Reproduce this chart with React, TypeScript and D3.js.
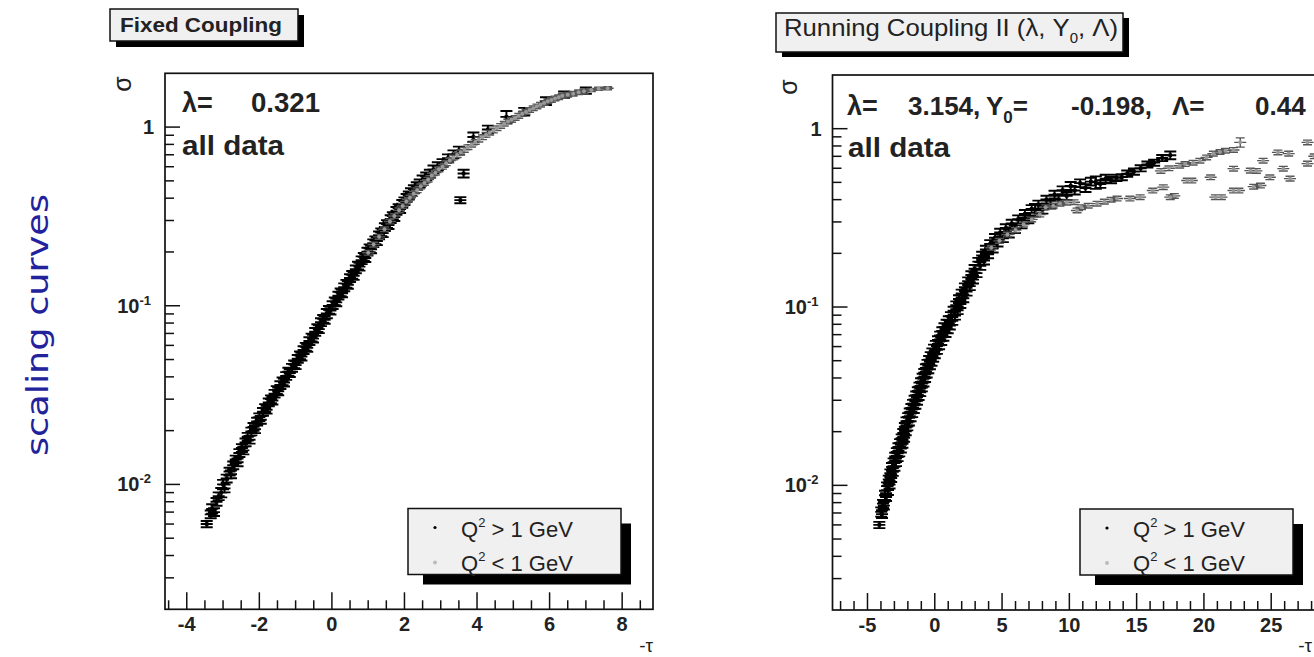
import React from "react";
import * as d3 from "d3";

const W = 1314;
const H = 657;
const FONT = "'Liberation Sans', Arial, Helvetica, sans-serif";

// ---------- data: [ -tau, sigma, relative error ] ----------
const FC_HI: [number, number, number][] = [
  [-3.45, 0.006, 0.04], [-3.34, 0.0068, 0.05], [-3.3, 0.0073, 0.06], [-3.25, 0.007, 0.05],
  [-3.18, 0.008, 0.05], [-3.12, 0.0086, 0.05], [-3.05, 0.009, 0.06], [-3.0, 0.01, 0.06],
  [-2.96, 0.0095, 0.05], [-2.9, 0.0108, 0.05], [-2.82, 0.0118, 0.05], [-2.78, 0.0114, 0.05],
  [-2.72, 0.0128, 0.05], [-2.65, 0.0138, 0.05], [-2.6, 0.0133, 0.05], [-2.55, 0.015, 0.05],
  [-2.48, 0.016, 0.05], [-2.44, 0.0155, 0.05], [-2.38, 0.0172, 0.05], [-2.32, 0.0185, 0.05],
  [-2.27, 0.0178, 0.05], [-2.22, 0.0198, 0.05], [-2.16, 0.021, 0.05], [-2.12, 0.0204, 0.05],
  [-2.06, 0.0225, 0.05], [-2.0, 0.0238, 0.05], [-1.96, 0.023, 0.05], [-1.9, 0.0255, 0.05],
  [-1.84, 0.0268, 0.05], [-1.8, 0.0262, 0.05], [-1.74, 0.0288, 0.05], [-1.68, 0.03, 0.05],
  [-1.64, 0.0295, 0.05], [-1.58, 0.0322, 0.05], [-1.52, 0.0338, 0.05], [-1.48, 0.0332, 0.05],
  [-1.42, 0.036, 0.05], [-1.36, 0.0378, 0.05], [-1.32, 0.0372, 0.05], [-1.26, 0.0405, 0.05],
  [-1.2, 0.0428, 0.05], [-1.16, 0.042, 0.05], [-1.1, 0.045, 0.05], [-1.04, 0.047, 0.05],
  [-1.0, 0.0465, 0.05], [-0.94, 0.0505, 0.05], [-0.88, 0.0528, 0.05], [-0.84, 0.052, 0.05],
  [-0.78, 0.0565, 0.05], [-0.72, 0.059, 0.05], [-0.68, 0.0582, 0.05], [-0.62, 0.0635, 0.05],
  [-0.56, 0.0665, 0.05], [-0.52, 0.0655, 0.05], [-0.46, 0.0715, 0.05], [-0.4, 0.075, 0.05],
  [-0.36, 0.074, 0.05], [-0.3, 0.081, 0.05], [-0.24, 0.0845, 0.05], [-0.2, 0.0835, 0.05],
  [-0.14, 0.0905, 0.06], [-0.08, 0.095, 0.05], [-0.04, 0.094, 0.05], [0.02, 0.101, 0.05],
  [0.08, 0.106, 0.05], [0.12, 0.1045, 0.05], [0.18, 0.114, 0.05], [0.24, 0.119, 0.05],
  [0.28, 0.1175, 0.05], [0.34, 0.127, 0.05], [0.4, 0.133, 0.05], [0.44, 0.131, 0.05],
  [0.5, 0.143, 0.05], [0.56, 0.149, 0.05], [0.6, 0.147, 0.05], [0.66, 0.16, 0.05],
  [0.72, 0.168, 0.05], [0.76, 0.1655, 0.05], [0.82, 0.18, 0.05], [0.88, 0.188, 0.05],
  [0.92, 0.185, 0.05], [0.98, 0.201, 0.05], [1.04, 0.21, 0.05], [1.08, 0.207, 0.05],
  [1.14, 0.224, 0.05], [1.2, 0.233, 0.05], [1.24, 0.23, 0.05], [1.3, 0.248, 0.05],
  [1.36, 0.258, 0.05], [1.4, 0.255, 0.05], [1.46, 0.276, 0.05], [1.52, 0.287, 0.05],
  [1.56, 0.283, 0.05], [1.62, 0.306, 0.05], [1.68, 0.318, 0.05], [1.72, 0.314, 0.05],
  [1.78, 0.34, 0.05], [1.84, 0.352, 0.05], [1.88, 0.348, 0.05], [1.94, 0.372, 0.05],
  [2.0, 0.385, 0.05], [2.06, 0.402, 0.05], [2.12, 0.415, 0.05], [2.18, 0.433, 0.05],
  [2.26, 0.45, 0.05], [2.34, 0.468, 0.05], [2.42, 0.485, 0.05], [2.5, 0.51, 0.05],
  [2.6, 0.53, 0.05], [2.7, 0.55, 0.05], [2.8, 0.58, 0.05], [2.92, 0.605, 0.05],
  [3.05, 0.63, 0.05], [3.2, 0.67, 0.05], [3.35, 0.705, 0.05], [3.5, 0.74, 0.05],
  [3.54, 0.39, 0.04], [3.63, 0.55, 0.05], [3.9, 0.88, 0.06], [4.3, 0.97, 0.05],
  [4.81, 1.14, 0.08], [5.3, 1.22, 0.05], [5.9, 1.4, 0.05], [6.4, 1.52, 0.04], [7.0, 1.6, 0.04],
];

const FC_LO: [number, number, number][] = [
  [1.0, 0.198, 0.03], [1.15, 0.22, 0.03], [1.3, 0.243, 0.03], [1.45, 0.268, 0.03],
  [1.6, 0.296, 0.03], [1.72, 0.318, 0.03], [1.85, 0.342, 0.03], [1.95, 0.362, 0.03],
  [2.05, 0.383, 0.03], [2.15, 0.402, 0.03], [2.25, 0.423, 0.03], [2.35, 0.443, 0.03],
  [2.45, 0.466, 0.03], [2.55, 0.487, 0.03], [2.65, 0.508, 0.03], [2.75, 0.535, 0.03],
  [2.85, 0.556, 0.03], [2.95, 0.58, 0.03], [3.05, 0.6, 0.03], [3.15, 0.627, 0.03],
  [3.25, 0.65, 0.03], [3.35, 0.676, 0.03], [3.45, 0.697, 0.03], [3.55, 0.722, 0.03],
  [3.65, 0.746, 0.03], [3.75, 0.772, 0.03], [3.85, 0.797, 0.03], [3.95, 0.826, 0.03],
  [4.05, 0.851, 0.03], [4.15, 0.877, 0.03], [4.25, 0.906, 0.03], [4.35, 0.93, 0.03],
  [4.45, 0.957, 0.03], [4.55, 0.986, 0.03], [4.65, 1.015, 0.03], [4.75, 1.045, 0.03],
  [4.85, 1.075, 0.03], [4.95, 1.098, 0.03], [5.05, 1.126, 0.03], [5.15, 1.156, 0.03],
  [5.25, 1.186, 0.03], [5.35, 1.216, 0.03], [5.45, 1.246, 0.03], [5.55, 1.275, 0.03],
  [5.65, 1.306, 0.03], [5.75, 1.335, 0.03], [5.85, 1.366, 0.03], [5.95, 1.395, 0.03],
  [6.05, 1.418, 0.03], [6.15, 1.446, 0.03], [6.25, 1.468, 0.03], [6.35, 1.496, 0.03],
  [6.5, 1.518, 0.03], [6.65, 1.538, 0.03], [6.8, 1.566, 0.03], [6.95, 1.588, 0.03],
  [7.15, 1.615, 0.02], [7.35, 1.638, 0.02], [7.6, 1.65, 0.02],
];

const RC_HI: [number, number, number][] = [
  [-4.12, 0.006, 0.04], [-3.98, 0.0071, 0.06], [-3.92, 0.0069, 0.05], [-3.85, 0.0079, 0.05],
  [-3.78, 0.0077, 0.05], [-3.7, 0.0088, 0.06], [-3.62, 0.0086, 0.05], [-3.55, 0.0099, 0.05],
  [-3.48, 0.0094, 0.06], [-3.42, 0.0108, 0.05], [-3.36, 0.0101, 0.05], [-3.3, 0.0117, 0.05],
  [-3.24, 0.011, 0.05], [-3.18, 0.0127, 0.05], [-3.12, 0.0119, 0.05], [-3.06, 0.0135, 0.05],
  [-3.0, 0.0127, 0.05], [-2.94, 0.0145, 0.05], [-2.88, 0.0135, 0.05], [-2.82, 0.0154, 0.05],
  [-2.76, 0.0144, 0.05], [-2.7, 0.0164, 0.05], [-2.64, 0.0153, 0.05], [-2.58, 0.0173, 0.05],
  [-2.52, 0.0161, 0.05], [-2.46, 0.0184, 0.05], [-2.4, 0.0171, 0.05], [-2.34, 0.0197, 0.05],
  [-2.28, 0.0185, 0.05], [-2.22, 0.0213, 0.05], [-2.16, 0.0201, 0.05], [-2.1, 0.0229, 0.05],
  [-2.04, 0.0214, 0.05], [-1.98, 0.0242, 0.05], [-1.92, 0.0228, 0.05], [-1.86, 0.0257, 0.05],
  [-1.8, 0.0241, 0.05], [-1.74, 0.0272, 0.05], [-1.68, 0.0254, 0.05], [-1.62, 0.0287, 0.05],
  [-1.56, 0.0268, 0.05], [-1.5, 0.0303, 0.05], [-1.44, 0.0283, 0.05], [-1.38, 0.032, 0.05],
  [-1.32, 0.0298, 0.05], [-1.26, 0.0338, 0.05], [-1.2, 0.0317, 0.05], [-1.14, 0.0359, 0.05],
  [-1.08, 0.0333, 0.05], [-1.02, 0.038, 0.05], [-0.96, 0.0354, 0.05], [-0.9, 0.0402, 0.05],
  [-0.84, 0.0377, 0.05], [-0.78, 0.0428, 0.05], [-0.72, 0.04, 0.05], [-0.66, 0.0455, 0.05],
  [-0.6, 0.0424, 0.05], [-0.54, 0.0481, 0.05], [-0.48, 0.0448, 0.05], [-0.42, 0.0506, 0.05],
  [-0.36, 0.0471, 0.05], [-0.3, 0.0532, 0.05], [-0.24, 0.0493, 0.05], [-0.18, 0.0558, 0.05],
  [-0.12, 0.0519, 0.05], [-0.06, 0.0586, 0.05], [0.0, 0.0543, 0.05], [0.08, 0.0615, 0.05],
  [0.16, 0.0575, 0.05], [0.24, 0.0653, 0.05], [0.32, 0.061, 0.05], [0.4, 0.0693, 0.05],
  [0.48, 0.0645, 0.05], [0.56, 0.0733, 0.05], [0.64, 0.0681, 0.05], [0.72, 0.0772, 0.05],
  [0.8, 0.0715, 0.05], [0.88, 0.0808, 0.05], [0.96, 0.075, 0.05], [1.04, 0.0846, 0.05],
  [1.12, 0.0788, 0.05], [1.2, 0.0892, 0.05], [1.3, 0.0836, 0.05], [1.4, 0.0955, 0.05],
  [1.5, 0.0895, 0.05], [1.6, 0.1024, 0.05], [1.7, 0.096, 0.05], [1.8, 0.1108, 0.05],
  [1.9, 0.104, 0.05], [2.0, 0.1192, 0.05], [2.12, 0.112, 0.05], [2.24, 0.1292, 0.05],
  [2.36, 0.122, 0.05], [2.48, 0.1397, 0.05], [2.6, 0.131, 0.05], [2.72, 0.1512, 0.05],
  [2.84, 0.1425, 0.05], [2.96, 0.1638, 0.05], [3.1, 0.1548, 0.05], [3.24, 0.1796, 0.05],
  [3.38, 0.17, 0.05], [3.52, 0.1943, 0.05], [3.66, 0.1824, 0.05], [3.8, 0.21, 0.05],
  [3.96, 0.1976, 0.05], [4.12, 0.2258, 0.05], [4.3, 0.2128, 0.05], [4.48, 0.2447, 0.05],
  [4.66, 0.2299, 0.05], [4.86, 0.2615, 0.05], [5.06, 0.2432, 0.05], [5.28, 0.2772, 0.05],
  [5.5, 0.2584, 0.05], [5.72, 0.294, 0.05], [5.95, 0.2736, 0.05], [6.2, 0.3108, 0.05],
  [6.45, 0.2907, 0.05], [6.7, 0.333, 0.05], [6.95, 0.3107, 0.05], [7.2, 0.355, 0.05],
  [7.45, 0.35, 0.08], [7.7, 0.376, 0.05], [8.0, 0.3515, 0.05], [8.3, 0.401, 0.05],
  [8.6, 0.375, 0.05], [8.9, 0.427, 0.05], [9.2, 0.4, 0.05], [9.5, 0.452, 0.05],
  [9.8, 0.42, 0.05], [10.1, 0.478, 0.05], [10.4, 0.45, 0.05], [10.8, 0.495, 0.05],
  [11.2, 0.465, 0.05], [11.6, 0.505, 0.05], [11.97, 0.5, 0.08], [12.3, 0.49, 0.05],
  [12.7, 0.525, 0.05], [13.1, 0.515, 0.04], [13.5, 0.53, 0.04], [13.9, 0.535, 0.04],
  [14.3, 0.56, 0.04], [14.8, 0.575, 0.04], [15.3, 0.6, 0.04], [15.8, 0.63, 0.04],
  [16.3, 0.645, 0.04], [16.9, 0.685, 0.04], [17.5, 0.71, 0.05],
];

const RC_LO: [number, number, number][] = [
  [4.2, 0.215, 0.03], [4.8, 0.235, 0.03], [5.4, 0.255, 0.03], [6.0, 0.27, 0.03],
  [6.6, 0.29, 0.03], [7.2, 0.31, 0.03], [7.8, 0.33, 0.03], [8.24, 0.363, 0.03],
  [8.8, 0.37, 0.03], [9.3, 0.38, 0.03], [9.8, 0.385, 0.03], [10.35, 0.387, 0.03],
  [10.57, 0.348, 0.03], [10.9, 0.363, 0.03], [11.4, 0.37, 0.03], [12.06, 0.38, 0.03],
  [12.6, 0.39, 0.03], [13.1, 0.4, 0.03], [13.55, 0.406, 0.03], [14.5, 0.406, 0.03],
  [15.26, 0.413, 0.03], [16.2, 0.45, 0.03], [16.98, 0.47, 0.03], [17.5, 0.413, 0.03],
  [17.8, 0.42, 0.03], [18.76, 0.512, 0.03], [19.1, 0.512, 0.03], [20.5, 0.534, 0.03],
  [20.85, 0.413, 0.03], [21.3, 0.413, 0.03], [22.2, 0.597, 0.03], [22.2, 0.45, 0.03],
  [22.6, 0.45, 0.03], [23.45, 0.582, 0.03], [23.7, 0.473, 0.03], [23.9, 0.58, 0.03],
  [24.2, 0.48, 0.03], [24.4, 0.662, 0.03], [24.9, 0.534, 0.03], [25.5, 0.736, 0.03],
  [25.9, 0.597, 0.03], [26.3, 0.725, 0.03], [26.4, 0.525, 0.03], [27.7, 0.838, 0.03],
  [27.7, 0.637, 0.03], [28.2, 0.7, 0.03],
  [16.8, 0.58, 0.03], [17.4, 0.6, 0.03], [18.2, 0.62, 0.03], [18.6, 0.634, 0.03],
  [19.2, 0.645, 0.03], [19.7, 0.662, 0.03], [20.2, 0.69, 0.03], [20.7, 0.725, 0.03],
  [21.2, 0.74, 0.03], [21.6, 0.753, 0.03], [22.2, 0.76, 0.03], [22.7, 0.838, 0.06],
];

const FC_X_TICKS = [-4, -2, 0, 2, 4, 6, 8];
const RC_X_TICKS = [-5, 0, 5, 10, 15, 20, 25];
const Y_TICKS: { v: number; base: string; exp: string }[] = [
  { v: 1, base: "1", exp: "" },
  { v: 0.1, base: "10", exp: "-1" },
  { v: 0.01, base: "10", exp: "-2" },
];
const LEGEND_HI = "Q";
const LEGEND_LABELS = ["> 1 GeV", "< 1 GeV"];

type PanelProps = {
  x0: number; x1: number; y0: number; y1: number;
  xDomain: [number, number];
  xTicks: number[];
  xMinorStep: number;
  hi: [number, number, number][];
  lo: [number, number, number][];
};

function errPath(xs: d3.ScaleLinear<number, number>, ys: d3.ScaleLogarithmic<number, number>, d: [number, number, number], cap: number, xe: number) {
  const px = xs(d[0]);
  const py = ys(d[1]);
  const t = ys(d[1] * (1 + d[2]));
  const b = ys(d[1] * (1 - d[2]));
  return `M${px - cap},${t}H${px + cap}M${px},${t}V${b}M${px - cap},${b}H${px + cap}M${px - xe},${py}H${px + xe}`;
}

function Panel(p: PanelProps) {
  const xs = d3.scaleLinear().domain(p.xDomain).range([p.x0, p.x1]);
  const ys = d3.scaleLog().domain([0.002, 2]).range([p.y1, p.y0]);
  const minorX = d3.range(Math.ceil(p.xDomain[0] / p.xMinorStep) * p.xMinorStep, p.xDomain[1], p.xMinorStep)
    .filter((v) => !p.xTicks.some((t) => Math.abs(t - v) < 1e-6));
  const minorY: number[] = [];
  [0.001, 0.01, 0.1, 1].forEach((dec) => {
    for (let k = 2; k <= 9; k++) {
      const v = dec * k;
      if (v > 0.002 + 1e-9 && v < 2 - 1e-9) minorY.push(v);
    }
  });
  const hiPath = p.hi.map((d) => errPath(xs, ys, d, 6, 6)).join("");
  const loPath = p.lo.map((d) => errPath(xs, ys, d, 4.5, 6)).join("");
  return (
    <g>
      <rect x={p.x0} y={p.y0} width={p.x1 - p.x0} height={p.y1 - p.y0} fill="#fff" stroke="#111" strokeWidth={1.7} />
      {p.xTicks.map((t) => (
        <g key={"xt" + t}>
          <line x1={xs(t)} x2={xs(t)} y1={p.y1} y2={p.y1 - 17} stroke="#111" strokeWidth={1.5} />
          <text x={xs(t)} y={p.y1 + 22} textAnchor="middle" fontFamily={FONT} fontWeight="bold" fontSize={20} fill="#222">{t}</text>
        </g>
      ))}
      {minorX.map((t) => (
        <line key={"xm" + t} x1={xs(t)} x2={xs(t)} y1={p.y1} y2={p.y1 - 9} stroke="#111" strokeWidth={1.5} />
      ))}
      {Y_TICKS.map((t) => (
        <g key={"yt" + t.v}>
          <line x1={p.x0} x2={p.x0 + 15} y1={ys(t.v)} y2={ys(t.v)} stroke="#111" strokeWidth={1.5} />
          <text x={t.exp ? p.x0 - 14 : p.x0 - 11} y={ys(t.v) + 7} textAnchor="end" fontFamily={FONT} fontWeight="bold" fontSize={20} fill="#222">
            {t.base}
            {t.exp ? <tspan dy={-8} fontSize={13}>{t.exp}</tspan> : null}
          </text>
        </g>
      ))}
      {minorY.map((v) => (
        <line key={"ym" + v} x1={p.x0} x2={p.x0 + 9} y1={ys(v)} y2={ys(v)} stroke="#111" strokeWidth={1.5} />
      ))}
      <path d={hiPath} stroke="#000" strokeWidth={1.9} fill="none" />
      {p.hi.map((d, i) => (
        <rect key={"h" + i} x={xs(d[0]) - 1.8} y={ys(d[1]) - 1.8} width={3.6} height={3.6} fill="#000" />
      ))}
      <path d={loPath} stroke="#555" strokeWidth={1.4} fill="none" />
      {p.lo.map((d, i) => (
        <circle key={"l" + i} cx={xs(d[0])} cy={ys(d[1])} r={2} fill="#999" />
      ))}
    </g>
  );
}

function Legend({ x, y }: { x: number; y: number }) {
  const w = 213;
  const h = 66;
  return (
    <g>
      <path d={`M${x + 15},${y + h}V${y + h + 10}H${x + w + 10}V${y + 15}H${x + w}V${y + h}Z`} fill="#000" />
      <rect x={x} y={y} width={w} height={h} fill="#f0f0f0" stroke="#111" strokeWidth={1.5} />
      <circle cx={x + 27} cy={y + 19} r={1.6} fill="#000" />
      <circle cx={x + 27} cy={y + 54} r={2} fill="#bbb" />
      {LEGEND_LABELS.map((lab, i) => (
        <text key={lab} x={x + 53} y={y + 28 + i * 34} fontFamily={FONT} fontSize={22} fill="#222">
          {LEGEND_HI}
          <tspan dy={-10} fontSize={13}>2</tspan>
          <tspan dy={10}>{" " + lab}</tspan>
        </text>
      ))}
    </g>
  );
}

export default function App() {
  return (
    <svg width={W} height={H} viewBox={`0 0 ${W} ${H}`} style={{ position: "absolute", left: 0, top: 0, background: "#fff" }}>
      <rect x={0} y={0} width={W} height={H} fill="#fff" />
      <text transform="translate(48,325) rotate(-90)" textAnchor="middle" fontFamily="'DejaVu Sans', 'Noto Sans', sans-serif" fontSize={31} fill="#22229c" textLength={262} lengthAdjust="spacingAndGlyphs">scaling curves</text>

      {/* left panel */}
      <rect x={116} y={15} width={188} height={32} fill="#000" />
      <rect x={110} y={9} width={188} height={32} fill="#f0f0f0" stroke="#111" strokeWidth={1.5} />
      <text x={120} y={32} fontFamily={FONT} fontWeight="bold" fontSize={21} fill="#222" textLength={162} lengthAdjust="spacingAndGlyphs">Fixed Coupling</text>
      <Panel x0={165} x1={653} y0={73.3} y1={609.3} xDomain={[-4.6, 8.85]} xTicks={FC_X_TICKS} xMinorStep={0.5} hi={FC_HI} lo={FC_LO} />
      <text x={182} y={112} fontFamily={FONT} fontWeight="bold" fontSize={27} fill="#222">λ=</text>
      <text x={251} y={112} fontFamily={FONT} fontWeight="bold" fontSize={27} fill="#222" textLength={69} lengthAdjust="spacingAndGlyphs">0.321</text>
      <text x={182} y={155} fontFamily={FONT} fontWeight="bold" fontSize={27} fill="#222" textLength={102} lengthAdjust="spacingAndGlyphs">all data</text>
      <text transform="translate(131,84) rotate(-90)" textAnchor="middle" fontFamily={FONT} fontSize={25} fill="#222">σ</text>
      <text x={653} y={652} textAnchor="end" fontFamily={FONT} fontSize={19} fill="#222">-τ</text>
      <Legend x={408} y={508.5} />

      {/* right panel */}
      <rect x={782} y={18} width={347} height={39} fill="#000" />
      <rect x={776} y={13} width={347} height={39} fill="#f0f0f0" stroke="#111" strokeWidth={1.5} />
      <text x={784} y={36} fontFamily={FONT} fontSize={24} fill="#222" textLength={334} lengthAdjust="spacingAndGlyphs">
        Running Coupling II (λ, Y<tspan dy={7} fontSize={14}>0</tspan><tspan dy={-7}>, Λ)</tspan>
      </text>
      <Panel x0={832.5} x1={1321} y0={75} y1={610} xDomain={[-7.6, 28.7]} xTicks={RC_X_TICKS} xMinorStep={1} hi={RC_HI} lo={RC_LO} />
      <g fontFamily={FONT} fontWeight="bold" fontSize={26} fill="#222">
        <text x={847} y={115} fontSize={27}>λ=</text>
        <text x={908} y={115}>3.154,</text>
        <text x={986} y={115}>Y<tspan dy={8} fontSize={17}>0</tspan><tspan dy={-8}>=</tspan></text>
        <text x={1071} y={115}>-0.198,</text>
        <text x={1172} y={115}>Λ=</text>
        <text x={1255} y={115}>0.44</text>
        <text x={848} y={157} fontSize={27} textLength={102} lengthAdjust="spacingAndGlyphs">all data</text>
      </g>
      <text transform="translate(797,87) rotate(-90)" textAnchor="middle" fontFamily={FONT} fontSize={25} fill="#222">σ</text>
      <text x={1312} y={652} textAnchor="end" fontFamily={FONT} fontSize={19} fill="#222">-τ</text>
      <Legend x={1080} y={509} />
    </svg>
  );
}
